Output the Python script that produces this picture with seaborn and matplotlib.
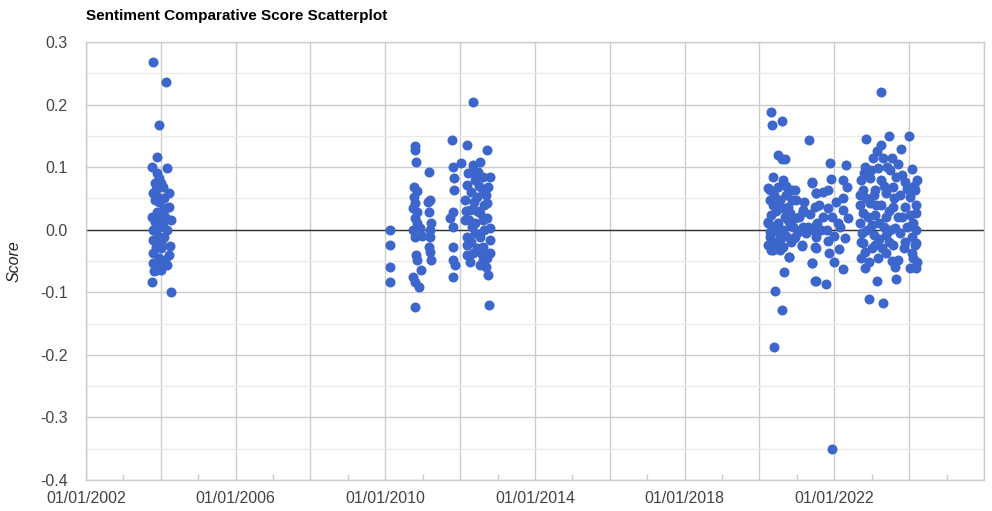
# Sentiment comparative score scatterplot (recreation)
import pandas as pd
import numpy as np
import matplotlib.pyplot as plt
import matplotlib.dates as mdates
from matplotlib.ticker import FuncFormatter
import seaborn as sns

# -----------------------------------------------
# DATA  (decimal year, score)
# -----------------------------------------------
points_2003 = [
    (2003.79, 0.268), (2004.14, 0.236), (2003.95, 0.168), (2003.90, 0.116), (2003.76, 0.101),
    (2004.16, 0.098), (2003.90, 0.090), (2003.84, 0.075), (2004.01, 0.075), (2003.95, 0.082),
    (2004.22, 0.059), (2003.79, 0.059), (2003.87, 0.065), (2004.06, 0.068), (2004.22, 0.037),
    (2003.95, 0.045), (2003.84, 0.048), (2004.08, 0.050), (2003.76, 0.021), (2003.90, 0.028),
    (2004.03, 0.030), (2004.27, 0.016), (2003.84, 0.012), (2004.12, 0.020), (2003.79, 0.000),
    (2003.98, 0.005), (2004.17, 0.000), (2004.06, 0.010), (2003.79, -0.016), (2003.93, -0.010),
    (2004.08, -0.012), (2004.24, -0.026), (2003.86, -0.028), (2004.01, -0.030), (2004.22, -0.040),
    (2003.79, -0.037), (2003.95, -0.045), (2004.12, -0.048), (2003.79, -0.053), (2004.16, -0.056),
    (2003.90, -0.064), (2004.01, -0.065), (2003.82, -0.066), (2003.76, -0.083), (2004.27, -0.100),
    (2003.88, 0.055), (2004.04, -0.055), (2003.93, 0.015), (2004.14, 0.035), (2004.00, -0.020),
]

points_2010 = [
    (2010.12, 0.000), (2010.12, -0.024), (2010.12, -0.059), (2010.12, -0.084),
    (2010.79, 0.134), (2010.79, 0.128), (2010.82, 0.109), (2010.77, 0.069), (2010.85, 0.062),
    (2010.77, 0.053), (2010.79, 0.043), (2010.74, 0.034), (2010.85, 0.029), (2010.79, 0.019),
    (2010.85, 0.011), (2010.74, 0.000), (2010.93, 0.003), (2010.79, -0.011), (2010.98, -0.010),
    (2010.82, -0.040), (2010.85, -0.048), (2010.95, -0.064), (2010.74, -0.075), (2010.79, -0.083),
    (2010.90, -0.091), (2010.79, -0.123),
    (2011.17, 0.093), (2011.19, 0.048), (2011.14, 0.045), (2011.17, 0.029), (2011.22, 0.011),
    (2011.19, 0.000), (2011.19, -0.011), (2011.17, -0.027), (2011.19, -0.035), (2011.22, -0.048),
]

points_2012 = [
    (2012.34, 0.204), (2011.78, 0.144), (2012.18, 0.136), (2012.72, 0.128), (2011.81, 0.100),
    (2012.03, 0.107), (2012.34, 0.104), (2012.53, 0.109), (2012.32, 0.093), (2012.80, 0.085),
    (2011.83, 0.083), (2011.83, 0.064), (2012.18, 0.072), (2012.61, 0.064), (2012.74, 0.069),
    (2012.13, 0.048), (2012.45, 0.053), (2012.72, 0.043), (2011.81, 0.029), (2012.26, 0.032),
    (2012.53, 0.027), (2011.73, 0.019), (2012.13, 0.016), (2012.72, 0.019), (2011.81, 0.005),
    (2012.32, 0.005), (2012.80, 0.003), (2012.18, -0.011), (2012.53, -0.011), (2012.80, -0.016),
    (2012.18, -0.024), (2011.81, -0.027), (2012.61, -0.027), (2012.80, -0.037), (2012.34, -0.037),
    (2012.18, -0.040), (2011.81, -0.048), (2011.86, -0.056), (2012.26, -0.051), (2012.61, -0.048),
    (2012.72, -0.045), (2012.53, -0.056), (2011.81, -0.075), (2012.74, -0.072), (2012.77, -0.120),
    (2012.40, 0.080), (2012.60, 0.085), (2012.45, 0.030), (2012.65, 0.040), (2012.40, 0.010),
    (2012.65, 0.000), (2012.28, -0.020), (2012.45, -0.030), (2012.70, 0.055), (2012.50, 0.070),
    (2012.30, 0.060), (2012.15, 0.030), (2012.60, 0.015), (2012.40, -0.005), (2012.70, -0.060),
    (2012.22, 0.090), (2012.48, 0.092), (2012.25, 0.015), (2012.55, -0.038), (2012.38, 0.045),
]

points_2021 = [
    (2020.31, 0.188), (2020.33, 0.168), (2020.60, 0.174), (2021.32, 0.144), (2020.49, 0.120),
    (2020.60, 0.113), (2020.68, 0.113), (2020.36, 0.085), (2020.63, 0.080), (2020.23, 0.067),
    (2020.49, 0.069), (2020.95, 0.063), (2021.40, 0.075), (2020.28, 0.048), (2020.55, 0.048),
    (2020.87, 0.048), (2021.51, 0.059), (2020.76, 0.037), (2021.16, 0.032), (2020.31, 0.024),
    (2020.68, 0.021), (2020.95, 0.019), (2020.23, 0.011), (2020.49, 0.011), (2020.81, 0.008),
    (2021.29, 0.005), (2021.51, 0.008), (2020.28, -0.003), (2020.63, 0.000), (2021.03, -0.003),
    (2021.43, 0.000), (2020.28, -0.011), (2020.95, -0.011), (2020.55, -0.016), (2020.28, -0.024),
    (2020.36, -0.032), (2020.55, -0.032), (2021.13, -0.026), (2021.48, -0.027), (2020.79, -0.043),
    (2021.40, -0.053), (2020.65, -0.068), (2021.48, -0.082), (2020.41, -0.098), (2020.60, -0.128),
    (2020.39, -0.188),
    (2021.88, 0.107), (2022.32, 0.104), (2021.40, 0.077), (2021.92, 0.081), (2022.23, 0.080),
    (2022.34, 0.069), (2021.51, 0.059), (2021.83, 0.064), (2022.23, 0.051), (2021.48, 0.037),
    (2021.83, 0.035), (2022.23, 0.032), (2021.16, 0.029), (2021.70, 0.021), (2022.10, 0.010),
    (2022.36, 0.018), (2021.16, 0.005), (2021.54, 0.011), (2021.80, 0.000), (2021.51, -0.011),
    (2021.83, -0.018), (2022.28, -0.014), (2021.13, -0.025), (2021.51, -0.030), (2021.86, -0.037),
    (2022.13, -0.031), (2021.99, -0.051), (2021.40, -0.053), (2022.22, -0.062), (2021.51, -0.082),
    (2021.78, -0.087), (2020.92, -0.013), (2020.89, 0.005), (2020.81, 0.027), (2020.99, 0.048),
    (2020.87, 0.064), (2020.28, 0.064), (2020.23, 0.013), (2020.23, -0.024), (2020.31, -0.032),
    (2020.63, -0.027), (2020.79, -0.044), (2021.94, -0.350),
    (2020.40, 0.055), (2020.45, 0.030), (2020.40, 0.005), (2020.70, 0.055), (2020.60, 0.035),
    (2020.75, 0.015), (2020.70, -0.010), (2020.45, -0.020), (2020.85, -0.020), (2021.05, 0.020),
    (2021.20, 0.045), (2021.25, -0.005), (2021.60, 0.040), (2021.65, 0.000), (2021.70, 0.060),
    (2021.95, 0.020), (2022.05, 0.045), (2022.00, -0.010), (2022.15, 0.005),
    (2020.36, 0.040), (2020.52, -0.005), (2020.72, 0.070), (2021.08, 0.000), (2021.35, 0.025),
]

points_2023 = [
    (2023.25, 0.220), (2022.84, 0.145), (2023.46, 0.149), (2023.99, 0.150), (2023.25, 0.136),
    (2023.78, 0.129), (2023.14, 0.125), (2023.55, 0.114), (2023.03, 0.114), (2022.82, 0.101),
    (2023.17, 0.098), (2023.49, 0.095), (2024.07, 0.097), (2023.80, 0.088), (2024.21, 0.080),
    (2022.72, 0.080), (2022.95, 0.083), (2023.26, 0.080), (2023.57, 0.069), (2023.89, 0.077),
    (2024.17, 0.064), (2022.76, 0.064), (2023.09, 0.064), (2023.39, 0.058), (2023.75, 0.056),
    (2024.02, 0.053), (2022.69, 0.040), (2022.95, 0.043), (2023.26, 0.040), (2023.57, 0.037),
    (2023.89, 0.037), (2024.19, 0.040), (2022.76, 0.027), (2023.09, 0.024), (2023.39, 0.021),
    (2023.70, 0.021), (2024.02, 0.024), (2024.19, 0.027), (2022.69, 0.011), (2023.01, 0.008),
    (2023.32, 0.005), (2023.62, 0.003), (2023.94, 0.005), (2024.19, 0.000), (2022.74, -0.005),
    (2023.05, -0.008), (2023.39, -0.008), (2023.75, -0.006), (2024.07, -0.011), (2022.76, -0.021),
    (2023.09, -0.024), (2023.57, -0.024), (2023.89, -0.019), (2024.19, -0.021), (2022.82, -0.035),
    (2023.17, -0.045), (2023.39, -0.037), (2023.70, -0.048), (2024.07, -0.037), (2024.21, -0.051),
    (2022.82, -0.061), (2023.63, -0.060), (2024.02, -0.061), (2024.19, -0.061), (2022.92, -0.052),
    (2023.14, -0.082), (2023.64, -0.078), (2022.93, -0.110), (2023.30, -0.117), (2022.69, 0.056),
    (2022.70, -0.020), (2022.72, -0.045), (2022.90, 0.020), (2022.88, 0.000), (2022.85, 0.050),
    (2023.00, -0.030), (2023.12, 0.040), (2023.20, 0.010), (2023.20, -0.015), (2023.32, 0.070),
    (2023.45, 0.030), (2023.50, 0.000), (2023.45, -0.020), (2023.60, 0.050), (2023.65, 0.085),
    (2023.82, 0.020), (2023.85, -0.030), (2024.10, 0.010), (2024.12, 0.070), (2023.95, 0.065),
    (2023.40, 0.100), (2023.30, 0.115), (2022.98, 0.095), (2023.70, 0.105), (2024.10, -0.045),
    (2024.15, -0.025), (2022.78, 0.090), (2023.05, 0.055), (2023.28, -0.030), (2023.55, -0.050),
]

y_ticks = [-0.4, -0.3, -0.2, -0.1, 0.0, 0.1, 0.2, 0.3]
y_tick_labels = ['-0.4', '-0.3', '-0.2', '-0.1', '0.0', '0.1', '0.2', '0.3']
y_minor = [-0.35, -0.25, -0.15, -0.05, 0.05, 0.15, 0.25]
x_label_years = [2002, 2006, 2010, 2014, 2018, 2022]

POINT_COLOR = '#3d66cc'


# -----------------------------------------------
# BUILD DATAFRAME
# -----------------------------------------------
def to_date(y):
    return pd.Timestamp(int(y), 1, 1) + pd.Timedelta(days=(y % 1) * 365.25)

all_points = points_2003 + points_2010 + points_2012 + points_2021 + points_2023
df = pd.DataFrame(all_points, columns=['year', 'score'])
df['date'] = df['year'].apply(to_date)


# -----------------------------------------------
# PLOT
# -----------------------------------------------
sns.set_theme(style='white')
plt.rcParams['font.family'] = ['Liberation Sans', 'DejaVu Sans']
plt.rcParams['axes.unicode_minus'] = False

fig, ax = plt.subplots(figsize=(9.92, 5.11), dpi=100)
fig.subplots_adjust(left=86/992, right=984/992, bottom=31/511, top=469/511)

sns.scatterplot(data=df, x='date', y='score', color=POINT_COLOR, s=52,
                linewidth=0, ax=ax, zorder=3)

ax.set_xlim(pd.Timestamp('2002-01-01'), pd.Timestamp('2026-01-01'))
ax.set_ylim(-0.4, 0.3)

# x axis: gridlines every 2 years, labels every 4, small ticks each year
ax.xaxis.set_major_locator(mdates.YearLocator(2))
ax.xaxis.set_minor_locator(mdates.YearLocator(1))

def date_label(v, pos):
    d = mdates.num2date(v)
    return d.strftime('%m/%d/%Y') if d.year in x_label_years else ''

ax.xaxis.set_major_formatter(FuncFormatter(date_label))

ax.set_yticks(y_ticks)
ax.set_yticklabels(y_tick_labels)
ax.set_yticks(y_minor, minor=True)

ax.set_axisbelow(True)
ax.grid(which='major', color='#cccccc', linewidth=1)
ax.grid(which='minor', axis='y', color='#ebebeb', linewidth=1)
ax.axhline(0, color='#333333', linewidth=1, zorder=2)

ax.tick_params(axis='both', which='major', length=0, labelsize=11.5, colors='#444444')
ax.tick_params(axis='x', which='major', pad=8)
ax.tick_params(axis='y', which='major', pad=13)
ax.tick_params(axis='x', which='minor', direction='in', length=4, color='#cccccc', bottom=True)
ax.tick_params(axis='y', which='minor', length=0)

for side in ax.spines:
    ax.spines[side].set_color('#cccccc')
    ax.spines[side].set_linewidth(1)

ax.set_xlabel('')
ax.set_ylabel('Score', style='italic', fontsize=11.5, color='#222222')
ax.yaxis.set_label_coords(-64/898, 0.5)

fig.text(86/992, 1 - 16/511, 'Sentiment Comparative Score Scatterplot',
         fontsize=11, fontweight='bold', ha='left', va='center', color='#000000')

plt.savefig('out.png', dpi=100)
print("Saved: out.png")
